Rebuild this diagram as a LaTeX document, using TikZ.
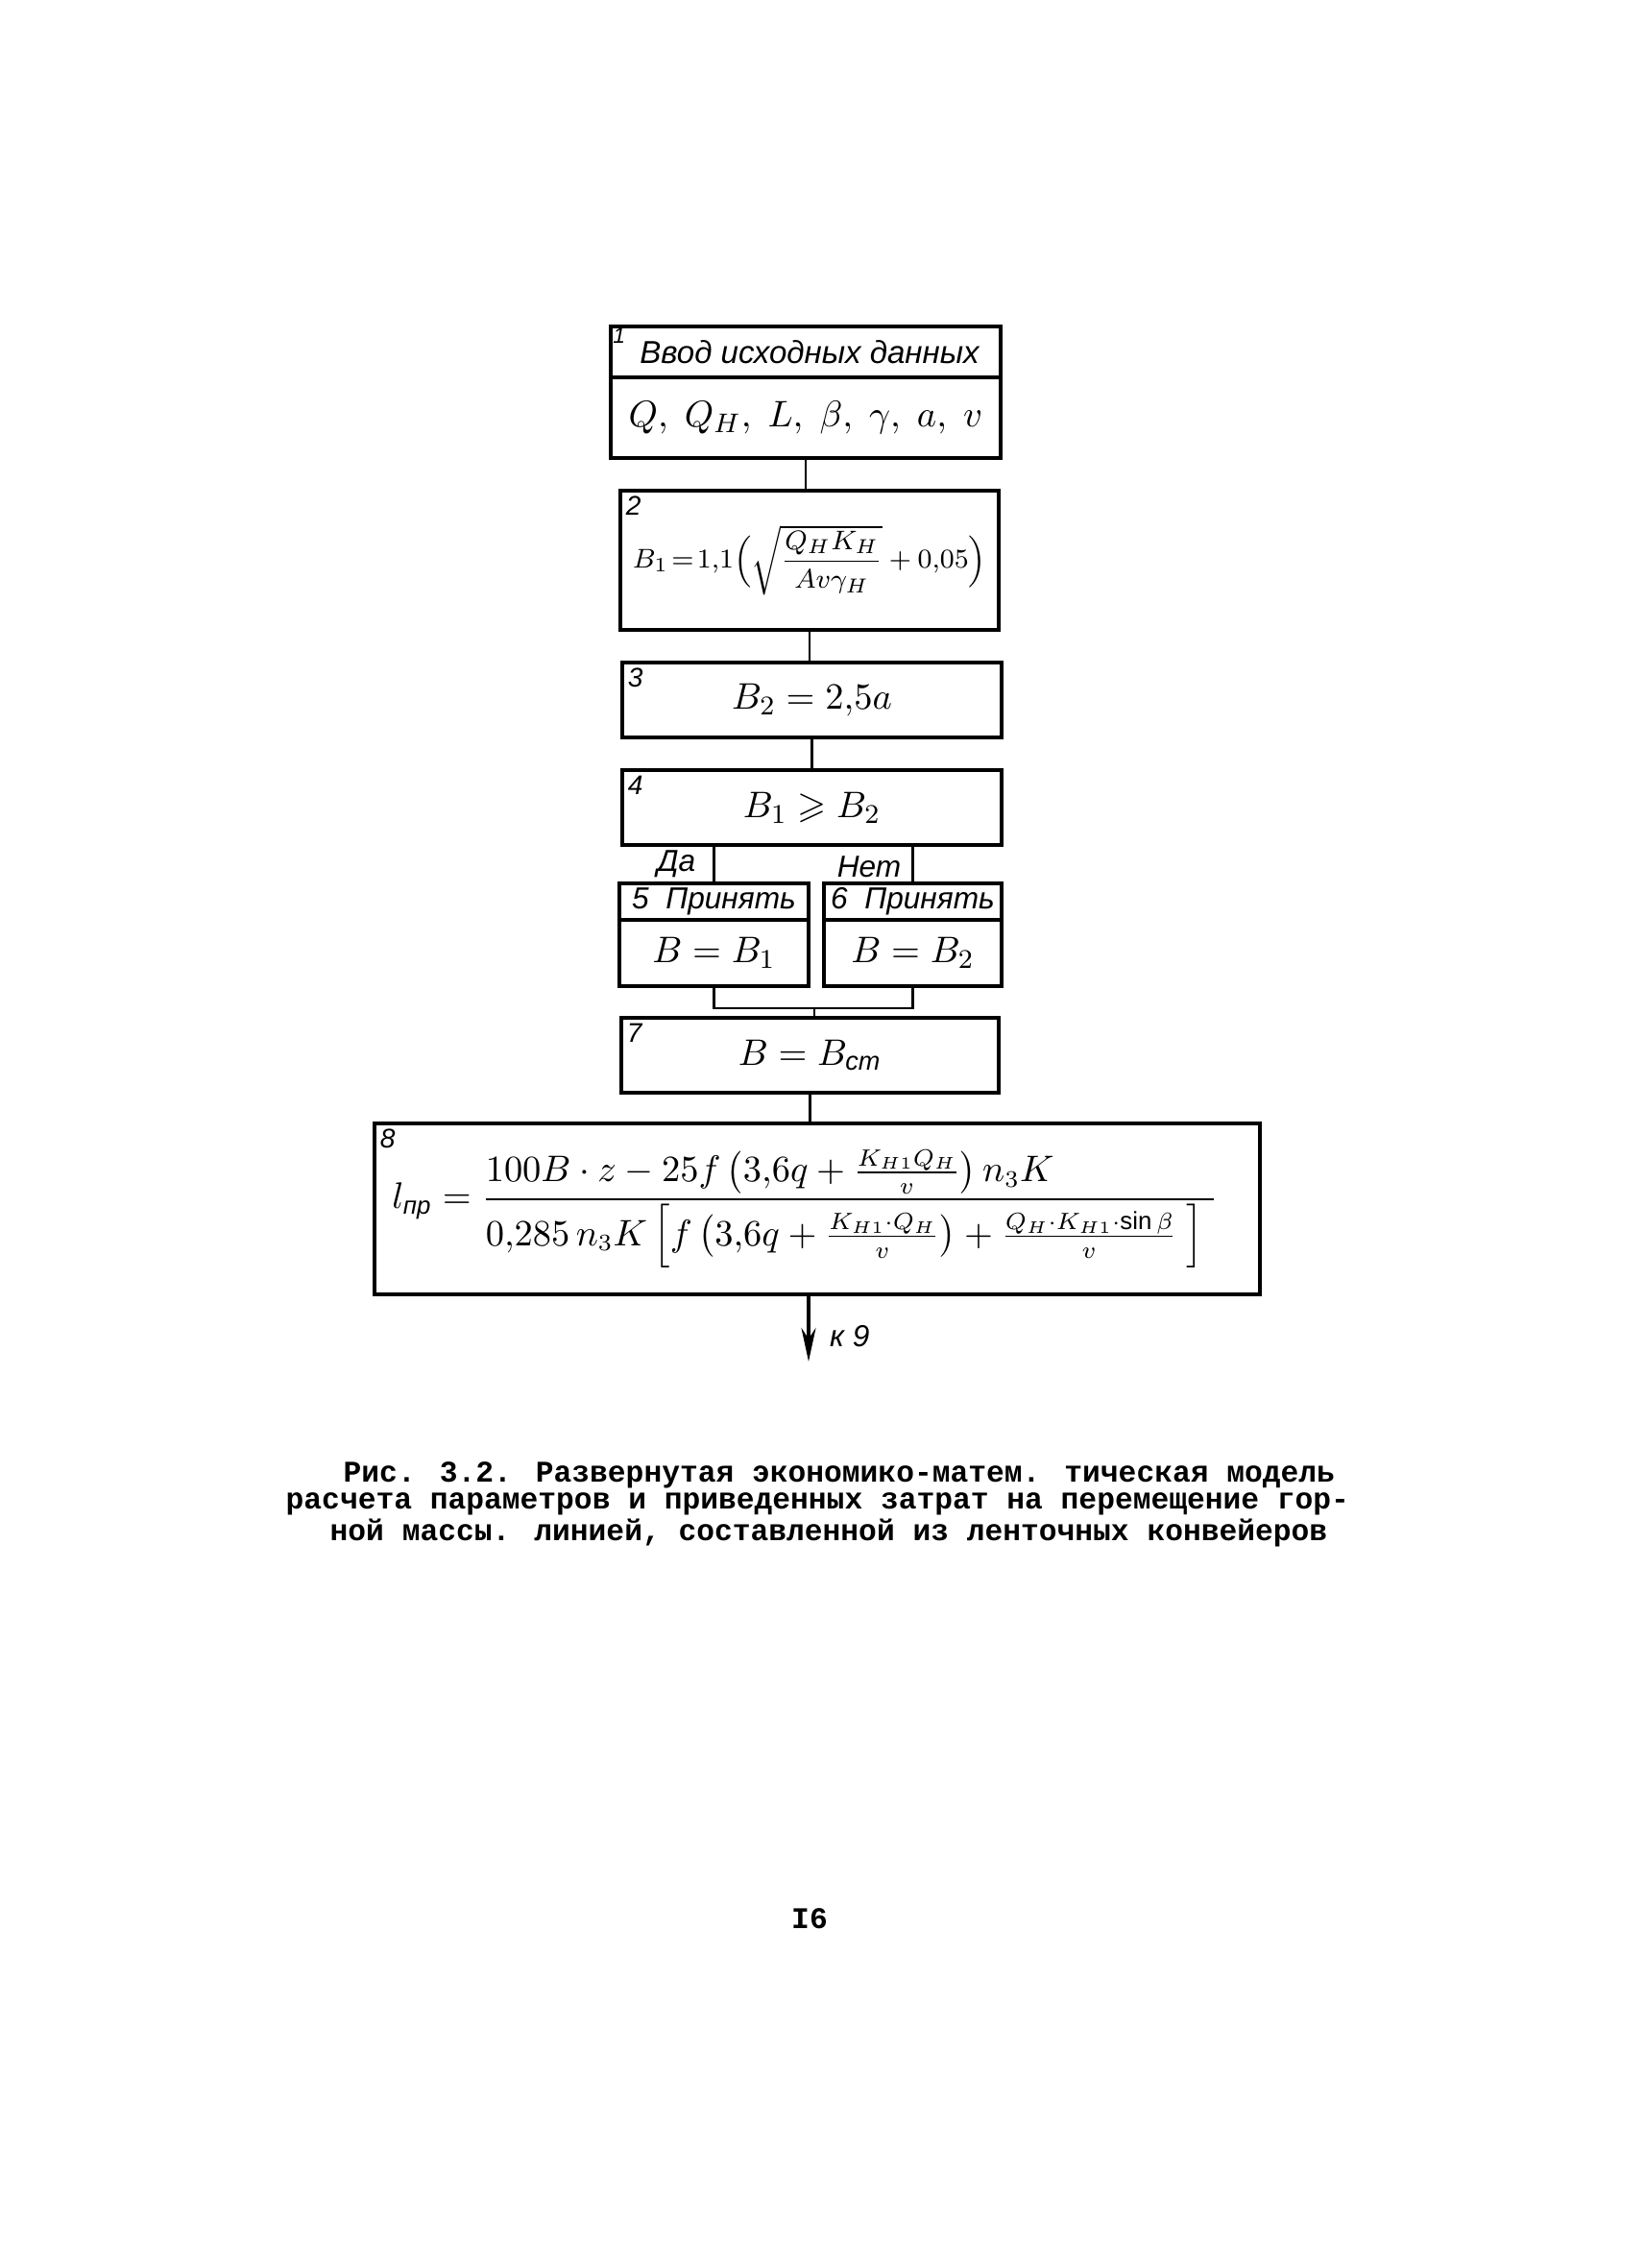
\documentclass[tikz,border=0pt]{standalone}
\usepackage{amsmath,amssymb}
\usepackage{fontspec}
\setmainfont{Liberation Sans}
\newfontfamily\mashinka{Liberation Mono}
\usetikzlibrary{arrows.meta}

\begin{document}
\begin{tikzpicture}[
  font=\itshape\fontsize{10}{12}\selectfont,
  blok/.style={draw, line width=1.1pt, inner sep=0pt, align=center},
  % номер блока пишется в левом верхнем углу рамки
  nomer/.style={anchor=north west, inner sep=2pt, font=\itshape\fontsize{8}{9}\selectfont},
  formula/.style={font=\fontsize{11}{13}\selectfont},
  podpis/.style={inner sep=1pt, font=\itshape\fontsize{9}{10}\selectfont},
  svaz/.style={line width=0.8pt},
  strelka/.style={line width=1pt, -{Stealth[length=3.5mm, width=1.5mm]}},
  tekst/.style={anchor=west, inner sep=0pt, font=\mashinka\bfseries\fontsize{8.9}{10}\selectfont},
]
\useasboundingbox (0,0) rectangle (17.12,-23.62);
% ---- ввод исходных данных
\node[blok, font=\itshape\fontsize{9.4}{11}\selectfont, minimum width=4.06cm, minimum height=0.53cm] (b1a) at (8.39,-3.665)
  {\hspace{0.08cm}Ввод исходных данных};
\node[blok, formula, minimum width=4.06cm, minimum height=0.84cm] (b1b) at (8.39,-4.35)
  {$Q,\ Q_H,\ L,\ \beta,\ \gamma,\ a,\ v$};
\node[nomer, inner sep=1pt, font=\itshape\fontsize{6.5}{7}\selectfont] at (b1a.north west) {1};
% ---- ширина ленты по производительности и по крупности куска
\node[blok, font=\fontsize{8.5}{10}\selectfont, minimum width=3.94cm, minimum height=1.45cm] (b2) at (8.43,-5.835)
  {$B_1\!=\!1{,}1\Bigl(\sqrt{\dfrac{Q_H K_H}{A v \gamma_H}} + 0{,}05\Bigr)$};
\node[nomer] at (b2.north west) {2};
\node[blok, formula, minimum width=3.95cm, minimum height=0.78cm] (b3) at (8.455,-7.29) {$B_2 = 2{,}5a$};
\node[nomer] at (b3.north west) {3};
\node[blok, formula, minimum width=3.95cm, minimum height=0.78cm] (b4) at (8.455,-8.41) {$B_1 \geqslant B_2$};
\node[nomer] at (b4.north west) {4};
% ---- ветви "да" и "нет"
\node[blok, font=\itshape\fontsize{9}{10}\selectfont, minimum width=1.97cm, minimum height=0.38cm] (b5a) at (7.435,-9.39) {5\ \ Принять};
\node[blok, formula, minimum width=1.97cm, minimum height=0.69cm] (b5b) at (7.435,-9.925) {$B = B_1$};
\node[blok, font=\itshape\fontsize{9}{10}\selectfont, minimum width=1.85cm, minimum height=0.38cm] (b6a) at (9.505,-9.39) {6\ \ Принять};
\node[blok, formula, minimum width=1.85cm, minimum height=0.69cm] (b6b) at (9.505,-9.925) {$B = B_2$};
\node[podpis, anchor=south east] (da) at ([xshift=-0.15cm]b5a.north) {Да};
\node[podpis, anchor=south east] (net) at ([xshift=-0.08cm]b6a.north) {Нет};
\node[blok, formula, minimum width=3.93cm, minimum height=0.78cm] (b7) at (8.435,-10.99) {$B = B_{\textit{ст}}$};
\node[nomer] at (b7.north west) {7};
% ---- приведенные затраты
\node[blok, font=\fontsize{10.5}{12}\selectfont, minimum width=9.22cm, minimum height=1.78cm] (b8) at (8.51,-12.59)
  {$l_{\textit{пр}} = \cfrac[l]{100B\cdot z - 25f\left(3{,}6q + \frac{K_{H1}Q_H}{v}\right)n_3K}
   {0{,}285\,n_3K\left[f\left(3{,}6q + \frac{K_{H1}\cdot Q_H}{v}\right) + \frac{Q_H\cdot K_{H1}\cdot \sin\beta}{v}\ \right]\ }$\hspace{0.3cm}};
\node[nomer] at (b8.north west) {8};
% ---- связи
\draw[svaz] (b1b.south) -- (b1b.south |- b2.north);
\draw[svaz] (b2.south) -- (b2.south |- b3.north);
\draw[svaz] (b3.south) -- (b3.south |- b4.north);
\draw[svaz] (b4.south -| b5a.north) -- (b5a.north);
\draw[svaz] (b4.south -| b6a.north) -- (b6a.north);
\coordinate (sliv) at (8.48,-10.50);
\draw[svaz] (b5b.south) |- (sliv) -| (b6b.south);
\draw[svaz] (sliv) -- (sliv |- b7.north);
\draw[svaz] (b7.south) -- (b7.south |- b8.north);
\coordinate (k9) at (8.42,-14.18);
\draw[strelka] (b8.south -| k9) -- (k9);
\node[podpis, anchor=west] (kdev) at (8.60,-13.92) {к 9};
% ---- подпись к рисунку
\node[tekst] (cap1) at (3.57,-15.36) {Рис. 3.2. Развернутая экономико-матем. тическая модель};
\node[tekst] (cap2) at (2.97,-15.66) {расчета параметров и приведенных затрат на перемещение гор-};
\node[tekst] (cap3) at (3.43,-15.96) {ной массы. линией, составленной из ленточных конвейеров};
\node[tekst, anchor=center] (str) at (8.43,-19.98) {I6};
\end{tikzpicture}
\end{document}
